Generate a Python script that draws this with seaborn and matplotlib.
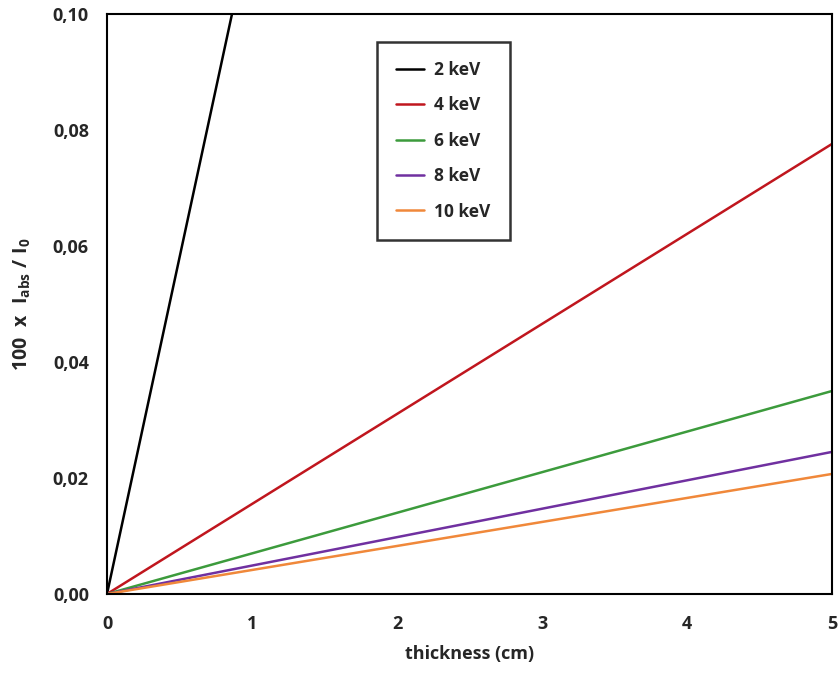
import matplotlib
matplotlib.use("Agg")
import matplotlib.pyplot as plt
import seaborn as sns
import pandas as pd
from matplotlib.ticker import FuncFormatter

sns.set_theme(style="white")
plt.rcParams['font.family'] = ['Open Sans', 'DejaVu Sans']
plt.rcParams['mathtext.fontset'] = 'custom'
plt.rcParams['mathtext.rm'] = 'Open Sans'
plt.rcParams['mathtext.bf'] = 'Open Sans:bold'
plt.rcParams['mathtext.it'] = 'Open Sans:italic'

thickness = [0.0, 5.0]
labels = ["2 keV", "4 keV", "6 keV", "8 keV", "10 keV"]
vals_2 = [0.0, 0.58]
vals_4 = [0.0, 0.0776]
vals_6 = [0.0, 0.0350]
vals_8 = [0.0, 0.0245]
vals_10 = [0.0, 0.0207]
colors = ["#000000", "#C0161E", "#3C9B3C", "#7030A0", "#F0883A"]

rows = []
for lab, vals in zip(labels, [vals_2, vals_4, vals_6, vals_8, vals_10]):
    for t, v in zip(thickness, vals):
        rows.append({"thickness": t, "value": v, "energy": lab})
df = pd.DataFrame(rows)

fig = plt.figure(figsize=(8.39, 6.75), dpi=100)
ax = fig.add_axes([107/839, 81/675, (832-107)/839, (594-14)/675])
sns.lineplot(data=df, x="thickness", y="value", hue="energy", hue_order=labels,
             palette=colors, linewidth=1.8, ax=ax)

ax.set_xlim(0, 5)
ax.set_ylim(0, 0.10)
ax.set_xticks([0, 1, 2, 3, 4, 5])
ax.set_yticks([0, 0.02, 0.04, 0.06, 0.08, 0.10])
ax.yaxis.set_major_formatter(FuncFormatter(lambda v, p: f"{v:.2f}".replace(".", ",")))
for s in ax.spines.values():
    s.set_color("black")
    s.set_linewidth(1.5)
ax.tick_params(axis="both", direction="out", length=5, width=1.2, color="black",
               labelsize=13, pad=8)
ax.tick_params(axis="x", pad=10)
for lbl in ax.get_xticklabels() + ax.get_yticklabels():
    lbl.set_fontweight("bold")
ax.set_xlabel("thickness (cm)", fontsize=13, fontweight="bold", labelpad=9)
ax.set_ylabel(r"$\mathbf{100\ \ x\ \ I_{abs}\ /\ I_{0}}$", fontsize=14, labelpad=14)

leg = ax.legend(loc="upper left", bbox_to_anchor=((377-107)/725, (594-42)/580),
                frameon=True, fancybox=False, fontsize=12.5, handlelength=1.6,
                labelspacing=1.0, borderpad=1.1, handletextpad=0.6,
                borderaxespad=0)
leg.get_frame().set_edgecolor("black")
leg.get_frame().set_linewidth(1.8)
for t in leg.get_texts():
    t.set_fontweight("bold")

fig.savefig("out.png", dpi=100)
